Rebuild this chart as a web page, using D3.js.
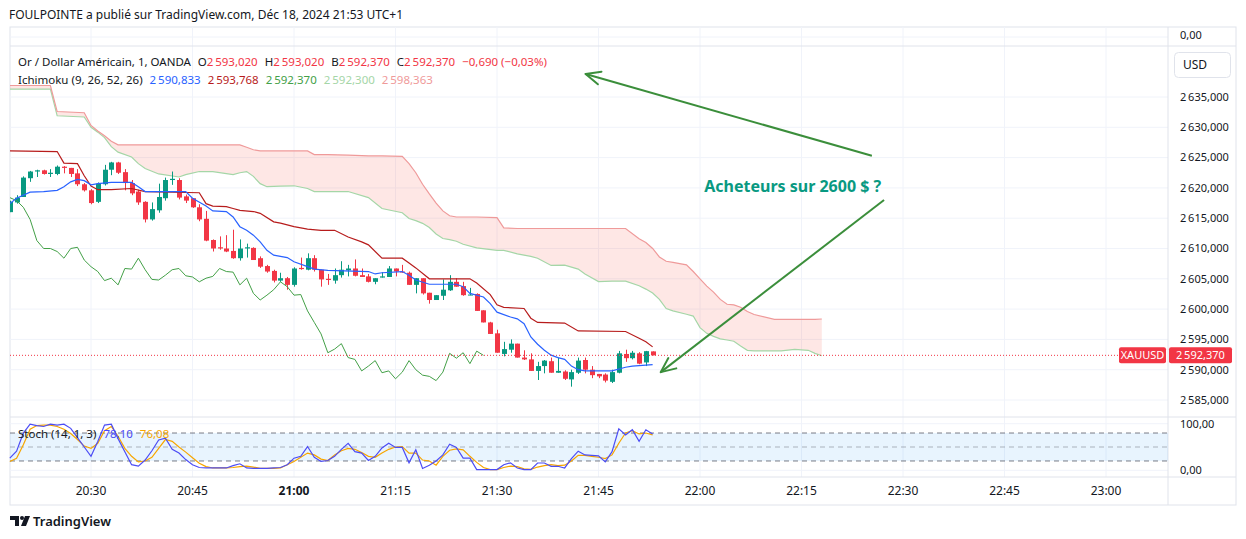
<!DOCTYPE html>
<html>
<head>
<meta charset="utf-8">
<script src="https://cdn.jsdelivr.net/npm/d3@7"></script>
<style>
  body { margin: 0; background: #fff; }
  svg { display: block; font-family: "Noto Sans", sans-serif; }
</style>
</head>
<body>
<svg id="chart" width="1246" height="539"></svg>
<script>
// ---- data (1 minute candles, first one at 20:18) ----
var firstCandle = [20, 18];
var opens  = [2616.0,2617.6,2618.5,2621.6,2622.7,2622.9,2622.3,2622.3,2623.5,2623.3,2622.4,2620.6,2619.6,2617.7,2620.6,2623.0,2624.2,2622.6,2620.8,2619.4,2617.7,2614.8,2616.3,2618.3,2621.3,2621.3,2618.6,2618.3,2616.8,2614.9,2611.4,2610.2,2610.0,2609.6,2608.4,2610.0,2610.1,2608.4,2607.1,2606.3,2604.7,2605.1,2604.0,2606.8,2606.5,2608.4,2606.5,2605.0,2604.7,2605.6,2606.4,2606.7,2605.6,2605.4,2604.5,2605.2,2605.3,2606.7,2606.2,2606.0,2604.0,2605.1,2602.7,2601.5,2602.2,2603.1,2604.5,2603.8,2602.3,2602.5,2599.8,2597.8,2596.0,2592.6,2593.3,2594.3,2592.0,2591.7,2589.8,2590.6,2591.4,2589.5,2589.7,2588.4,2589.5,2591.6,2590.0,2589.3,2589.2,2588.0,2589.5,2592.6,2591.9,2592.7,2591.2,2593.02];
var highs  = [2617.9,2618.8,2621.9,2622.8,2623.0,2623.0,2623.1,2623.7,2623.6,2623.3,2623.1,2620.8,2619.8,2620.9,2623.8,2624.3,2624.3,2623.1,2621.3,2619.7,2617.8,2617.6,2620.7,2621.7,2622.7,2621.6,2618.9,2618.3,2617.3,2616.2,2611.5,2612.0,2612.2,2613.1,2611.5,2610.8,2610.2,2608.7,2607.3,2606.5,2606.0,2605.3,2606.9,2608.5,2609.2,2608.9,2606.5,2605.8,2606.7,2607.9,2607.3,2608.2,2606.7,2605.8,2605.1,2606.1,2607.1,2606.7,2607.3,2606.2,2605.1,2605.1,2602.7,2602.3,2604.9,2605.6,2605.1,2604.5,2603.5,2602.6,2599.8,2597.9,2596.6,2594.6,2595.0,2594.3,2593.2,2592.7,2591.3,2591.6,2592.0,2592.0,2589.9,2590.0,2592.0,2592.0,2590.6,2589.3,2589.4,2590.0,2593.1,2593.3,2593.1,2592.9,2593.1,2593.02];
var lows   = [2616.0,2617.4,2618.5,2621.0,2621.8,2622.2,2621.8,2622.1,2622.4,2621.8,2620.3,2619.4,2617.3,2617.5,2620.4,2622.1,2622.3,2619.6,2618.8,2617.2,2614.3,2614.6,2615.9,2617.9,2620.5,2618.1,2617.5,2616.7,2614.5,2611.2,2609.5,2609.8,2609.4,2608.3,2608.0,2608.5,2608.1,2606.8,2606.0,2604.4,2604.5,2603.2,2603.7,2606.5,2606.4,2606.2,2603.7,2604.0,2604.2,2605.2,2605.4,2605.4,2605.3,2604.4,2604.1,2605.2,2605.3,2605.4,2606.0,2604.0,2602.6,2602.4,2600.9,2601.5,2601.5,2603.0,2603.7,2602.2,2602.3,2599.7,2597.8,2595.9,2592.8,2592.2,2592.8,2592.0,2591.6,2589.8,2588.3,2589.4,2589.5,2589.5,2588.3,2587.2,2589.3,2589.4,2588.6,2588.6,2587.9,2587.8,2589.4,2591.3,2591.7,2590.9,2590.6,2592.37];
var closes = [2617.7,2618.4,2621.7,2622.7,2622.9,2622.3,2622.5,2623.5,2623.3,2622.3,2620.6,2619.6,2617.5,2620.7,2623.0,2624.2,2622.5,2620.8,2619.1,2617.6,2614.8,2616.5,2618.5,2621.3,2621.5,2618.4,2617.9,2616.8,2614.8,2611.3,2610.0,2610.0,2609.5,2608.4,2610.0,2610.2,2608.1,2607.0,2606.2,2604.7,2605.1,2604.0,2606.7,2606.6,2608.4,2606.5,2604.9,2604.8,2605.6,2606.5,2606.7,2605.5,2605.3,2604.5,2605.1,2605.4,2606.7,2606.2,2606.1,2604.0,2605.1,2602.6,2601.5,2602.3,2603.2,2604.5,2603.7,2602.3,2602.4,2599.7,2597.8,2595.9,2592.8,2593.4,2594.3,2592.0,2591.7,2589.8,2590.6,2591.5,2589.5,2589.8,2588.5,2589.6,2591.5,2590.0,2589.1,2588.9,2588.2,2589.6,2592.7,2591.9,2592.8,2591.0,2593.06,2592.37];

// Ichimoku lines: [minute index, price]
var conversionLine = [[0,2617.4],[1,2618.3],[3,2619.3],[5,2619.4],[7,2619.6],[8,2620.2],[9,2621.0],[10,2621.4],[11,2621.2],[12,2620.5],[13,2620.7],[15,2620.9],[18,2620.9],[19,2620.2],[20,2619.4],[26,2619.4],[27,2618.3],[29,2617.0],[30,2616.2],[32,2616.1],[33,2615.2],[34,2613.6],[35,2613.0],[36,2612.2],[37,2611.1],[38,2609.7],[39,2608.9],[41,2608.5],[42,2607.8],[44,2607.0],[45,2606.6],[47,2606.4],[53,2606.2],[54,2605.8],[55,2606.0],[58,2606.2],[59,2605.6],[60,2604.8],[62,2604.1],[66,2604.1],[67,2603.7],[68,2602.6],[70,2602.0],[71,2600.9],[72,2599.5],[74,2598.7],[75,2598.4],[76,2597.6],[77,2595.4],[78,2594.2],[79,2593.2],[80,2592.4],[81,2592.0],[82,2591.7],[83,2590.6],[84,2590.0],[85,2589.8],[89,2589.8],[91,2590.4],[92,2590.6],[95,2590.833]];
var baseLine = [[0,2626.1],[7,2626.0],[8,2624.1],[10,2624.0],[11,2622.0],[12,2620.3],[13,2619.7],[15,2619.7],[18,2619.9],[20,2619.4],[28,2619.2],[29,2617.4],[30,2617.0],[32,2616.9],[33,2616.6],[34,2616.3],[36,2616.1],[37,2615.8],[39,2614.4],[40,2614.2],[42,2613.6],[44,2613.2],[46,2613.0],[48,2613.0],[50,2611.9],[52,2611.1],[53,2610.6],[55,2608.4],[58,2608.4],[59,2607.6],[60,2606.8],[62,2605.0],[68,2605.0],[69,2604.3],[71,2602.4],[72,2600.7],[73,2600.3],[76,2600.1],[77,2598.5],[78,2597.8],[82,2597.7],[84,2596.4],[91,2596.3],[93,2595.2],[94,2594.6],[95,2593.768]];
var laggingShift = 25;
var cloudIdx = [0,6,7,11,12,13,14,15,16,18,19,20,22,25,26,28,30,33,34,35,36,37,38,39,40,42,44,45,47,50,53,55,58,59,60,61,62,63,64,65,66,67,69,72,73,75,77,78,80,82,84,85,87,89,91,93,94,95,96,97,98,100,101,102,103,104,105,106,107,108,109,110,113,114,116,118,119,120];
var leadA = [2636.3,2636.3,2631.9,2631.7,2630.0,2629.2,2628.3,2626.8,2625.9,2625.1,2624.0,2623.2,2622.3,2621.8,2622.2,2622.7,2622.7,2622.2,2622.5,2622.7,2621.9,2620.7,2620.2,2620.25,2620.3,2620.35,2619.9,2619.4,2619.4,2619.4,2618.4,2616.6,2615.9,2614.95,2614.6,2614.15,2613.45,2612.4,2611.65,2611.45,2611.2,2610.7,2610.1,2609.7,2609.7,2609.1,2608.7,2608.4,2607.2,2607.25,2606.6,2605.8,2604.55,2604.6,2604.6,2603.85,2603.3,2602.65,2601.6,2600.1,2599.7,2599.15,2598.85,2596.95,2596.0,2595.5,2595.1,2594.9,2594.7,2593.9,2593.2,2593.1,2593.1,2593.1,2593.35,2593.2,2592.7,2592.3];
var leadB = [2636.9,2636.9,2632.6,2632.4,2630.3,2629.4,2628.6,2627.7,2627.1,2627.1,2627.1,2627.1,2627.1,2627.1,2627.1,2627.1,2627.1,2627.1,2627.1,2626.7,2626.3,2626.1,2626.1,2626.1,2626.1,2626.1,2626.1,2625.5,2625.5,2625.4,2625.3,2625.3,2625.2,2624.0,2622.5,2620.6,2619.0,2617.5,2616.2,2615.4,2615.2,2615.2,2615.2,2615.1,2613.4,2613.3,2613.3,2613.3,2613.3,2613.3,2613.3,2613.3,2613.3,2613.3,2613.3,2611.6,2611.0,2610.0,2608.6,2607.9,2607.7,2607.3,2606.2,2605.0,2603.8,2602.8,2601.6,2600.8,2600.7,2600.3,2599.6,2599.1,2598.3,2598.3,2598.3,2598.3,2598.3,2598.363];

// Stochastic (14, 1, 3)
var stochK = [26,41,80,99,96,94,99,97,99,90,70,50,30,62,97,99,68,40,12,9,22,42,65,69,45,37,23,12,6,5,5,5,5,10,14,5,4,4,4,5,6,12,26,30,51,28,19,21,30,45,58,40,37,21,30,48,58,49,49,16,44,4,11,20,33,56,49,26,26,1.5,1.5,1.5,1.5,12,16,5,1.5,1.5,15.7,15.7,8.6,8.6,5,25,41,33,32,31,18,40,89,76,87,62,87,78.10];
var stochD = [19,26,55,88,96,97,97,94,88,79,66,52,47,58,85,94,73,47,30,18,20,28,47,66,62,50,39,27,15,8,5,5,5,6,8,9,7,4,4,4,5,12,19,28,37,33,24,21,33,42,47,45,38,30,28,37,45,50,51,37,37,22,20,11,30,43,46,44,30,17,6,1.5,1.5,6,9,8,3,2,7,10,12,10,11,20,32,32,30,28,25,33,58,80,85,78,80,76.08];

// axes
var priceTicks = [2585,2590,2595,2600,2605,2610,2615,2620,2625,2630,2635];
var timeTicks = ["20:30","20:45","21:00","21:15","21:30","21:45","22:00","22:15","22:30","22:45","23:00"];
var boldTicks = ["21:00"];
var stochLevels = [80, 50, 20];
var stochLabels = [100, 0];

// drawings: [hh, mm (fractional), price]
var arrows = [
  {from: [22, 25.4, 2625.3], to: [21, 43.1, 2638.8]},
  {from: [22, 27.2, 2618.0], to: [21, 54.2, 2589.6]}
];
var noteText = {at: [22, 13.7, 2620.3], text: "Acheteurs sur 2600 $ ?"};

// ---- setup ----
var svg = d3.select("#chart");
var locale = d3.formatLocale({decimal: ",", thousands: "\u202f", grouping: [3], currency: ["", ""]});
var f3 = locale.format(",.3f"), f2 = locale.format(",.2f");

var red = "#f23645", green = "#089981", gridCol = "#f0f3fa", borderCol = "#e0e3eb", textCol = "#131722";
var paneLeft = 10, paneRight = 1168, frameRight = 1236;
var frameTop = 27, mainTop = 46, mainBottom = 417, stochBottom = 477, frameBottom = 505;

function hm(h, m) { return new Date(Date.UTC(2024, 11, 18, h, 0) + m * 60000); }
function tAt(i) { return hm(firstCandle[0], firstCandle[1] + i); }
function parseTick(s) { var p = s.split(":"); return hm(+p[0], +p[1]); }

var x = d3.scaleUtc().domain([hm(20, 30), hm(22, 0)]).range([91, 700]);
var y = d3.scaleLinear().domain([2585, 2635]).range([400, 97]);
var ys = d3.scaleLinear().domain([0, 100]).range([470.3, 423.7]);

// header
svg.append("text").attr("x", 9).attr("y", 19).attr("font-size", 12).attr("fill", textCol)
  .text("FOULPOINTE a publié sur TradingView.com, Déc 18, 2024 21:53 UTC+1");

// frame
svg.append("rect").attr("x", paneLeft).attr("y", frameTop).attr("width", frameRight - paneLeft)
  .attr("height", frameBottom - frameTop).attr("fill", "none").attr("stroke", borderCol);

// grid
var grid = svg.append("g");
timeTicks.forEach(function(s) {
  grid.append("line").attr("x1", x(parseTick(s))).attr("x2", x(parseTick(s)))
    .attr("y1", frameTop).attr("y2", stochBottom).attr("stroke", gridCol);
});
priceTicks.forEach(function(p) {
  grid.append("line").attr("x1", paneLeft).attr("x2", paneRight).attr("y1", y(p)).attr("y2", y(p)).attr("stroke", gridCol);
});
grid.append("line").attr("x1", paneLeft).attr("x2", paneRight).attr("y1", 37).attr("y2", 37).attr("stroke", gridCol);
stochLabels.forEach(function(v) {
  grid.append("line").attr("x1", paneLeft).attr("x2", paneRight).attr("y1", ys(v)).attr("y2", ys(v)).attr("stroke", gridCol);
});
[mainTop, mainBottom, stochBottom].forEach(function(yy) {
  svg.append("line").attr("x1", paneLeft).attr("x2", frameRight).attr("y1", yy).attr("y2", yy).attr("stroke", borderCol);
});
svg.append("line").attr("x1", paneRight).attr("x2", paneRight).attr("y1", frameTop).attr("y2", frameBottom).attr("stroke", borderCol);

// clip for main pane
svg.append("clipPath").attr("id", "mainClip").append("rect")
  .attr("x", paneLeft).attr("y", mainTop + 1).attr("width", paneRight - paneLeft).attr("height", mainBottom - mainTop - 1);
var main = svg.append("g").attr("clip-path", "url(#mainClip)");

// cloud
var cloud = cloudIdx.map(function(i, k) { return {t: tAt(i), a: leadA[k], b: leadB[k]}; });
main.append("path").datum(cloud)
  .attr("d", d3.area().x(function(d) { return x(d.t); }).y0(function(d) { return y(d.a); }).y1(function(d) { return y(d.b); }))
  .attr("fill", "rgba(244, 67, 54, 0.13)");
var lineT = d3.line().x(function(d) { return x(d.t); });
main.append("path").datum(cloud).attr("d", lineT.y(function(d) { return y(d.a); }))
  .attr("fill", "none").attr("stroke", "#a5d6a7").attr("stroke-width", 1.2);
main.append("path").datum(cloud).attr("d", d3.line().x(function(d) { return x(d.t); }).y(function(d) { return y(d.b); }))
  .attr("fill", "none").attr("stroke", "#ef9a9a").attr("stroke-width", 1.2);

// candles
var candles = opens.map(function(o, i) { return {t: tAt(i), o: o, h: highs[i], l: lows[i], c: closes[i]}; });
var cg = main.selectAll("g.candle").data(candles).enter().append("g")
  .attr("fill", function(d) { return d.c >= d.o ? green : red; })
  .attr("stroke", function(d) { return d.c >= d.o ? green : red; });
cg.append("line").attr("x1", function(d) { return Math.round(x(d.t)) + 0.5; }).attr("x2", function(d) { return Math.round(x(d.t)) + 0.5; })
  .attr("y1", function(d) { return y(d.h); }).attr("y2", function(d) { return y(d.l); }).attr("stroke-width", 1);
cg.append("rect").attr("stroke", "none")
  .attr("x", function(d) { return Math.round(x(d.t)) + 0.5 - 2.5; }).attr("width", 5)
  .attr("y", function(d) { return y(Math.max(d.o, d.c)); })
  .attr("height", function(d) { return Math.max(1, Math.abs(y(d.o) - y(d.c))); });

// lagging span (closes plotted 25 bars back)
var lagging = closes.slice(laggingShift).map(function(c, k) { return [k, c]; });
var lineIdx = d3.line().x(function(d) { return x(tAt(d[0])); }).y(function(d) { return y(d[1]); });
main.append("path").datum(lagging).attr("d", lineIdx).attr("fill", "none").attr("stroke", "#43a047").attr("stroke-width", 1);
main.append("path").datum(baseLine).attr("d", lineIdx).attr("fill", "none").attr("stroke", "#b71c1c").attr("stroke-width", 1.2);
main.append("path").datum(conversionLine).attr("d", lineIdx).attr("fill", "none").attr("stroke", "#2962ff").attr("stroke-width", 1.2);

// last price dotted line
var last = closes[closes.length - 1];
main.append("line").attr("x1", paneLeft).attr("x2", paneRight).attr("y1", y(last)).attr("y2", y(last))
  .attr("stroke", red).attr("stroke-dasharray", "1,2");

// price axis
var pax = svg.append("g").attr("font-size", 11).attr("fill", textCol);
priceTicks.forEach(function(p) {
  pax.append("text").attr("x", 1180).attr("y", y(p)).attr("dy", "0.35em").text(f3(p));
});
pax.append("text").attr("x", 1180).attr("y", 35).attr("dy", "0.35em").text(f2(0));
svg.append("rect").attr("x", 1174.5).attr("y", 52.5).attr("width", 56).attr("height", 25).attr("rx", 4)
  .attr("fill", "#fff").attr("stroke", borderCol);
svg.append("text").attr("x", 1195).attr("y", 65).attr("dy", "0.35em").attr("text-anchor", "middle")
  .attr("font-size", 12).attr("fill", textCol).text("USD");
svg.append("rect").attr("x", 1119).attr("y", y(last) - 8).attr("width", 47).attr("height", 16).attr("rx", 2).attr("fill", red);
svg.append("text").attr("x", 1142.5).attr("y", y(last)).attr("dy", "0.35em").attr("text-anchor", "middle")
  .attr("font-size", 11).attr("fill", "#fff").text("XAUUSD");
svg.append("rect").attr("x", 1169).attr("y", y(last) - 8).attr("width", 63).attr("height", 16).attr("rx", 2).attr("fill", red);
svg.append("text").attr("x", 1176).attr("y", y(last)).attr("dy", "0.35em")
  .attr("font-size", 11).attr("fill", "#fff").text(f3(last));

// stoch pane
svg.append("rect").attr("x", paneLeft).attr("y", ys(80)).attr("width", paneRight - paneLeft)
  .attr("height", ys(20) - ys(80)).attr("fill", "rgba(33, 150, 243, 0.1)");
stochLevels.forEach(function(v) {
  svg.append("line").attr("x1", paneLeft).attr("x2", paneRight).attr("y1", ys(v)).attr("y2", ys(v))
    .attr("stroke", "#787b86").attr("stroke-opacity", v === 50 ? 0.55 : 1).attr("stroke-dasharray", "5,4");
});
var sLine = d3.line().x(function(d, i) { return x(tAt(i)); }).y(function(d) { return ys(d); });
svg.append("path").datum(stochD).attr("d", sLine).attr("fill", "none").attr("stroke", "#f7a600").attr("stroke-width", 1.2);
svg.append("path").datum(stochK).attr("d", sLine).attr("fill", "none").attr("stroke", "#4d4df5").attr("stroke-width", 1.2);
stochLabels.forEach(function(v) {
  pax.append("text").attr("x", 1180).attr("y", ys(v)).attr("dy", "0.35em").text(f2(v));
});

// time axis
var tax = svg.append("g").attr("font-size", 12).attr("fill", textCol).attr("text-anchor", "middle");
timeTicks.forEach(function(s) {
  tax.append("text").attr("x", x(parseTick(s))).attr("y", 491).attr("dy", "0.35em")
    .attr("font-weight", boldTicks.indexOf(s) >= 0 ? "bold" : null).text(s);
});

// legends
function legend(yy, parts) {
  var t = svg.append("text").attr("x", 18).attr("y", yy).attr("font-size", 11.5).attr("fill", textCol);
  parts.forEach(function(p) {
    t.append("tspan").attr("dx", p[2] || 0).attr("fill", p[1] || textCol).text(p[0]);
  });
}
var prev = closes[closes.length - 2];
var chg = last - prev;
legend(66, [
  ["Or / Dollar Américain, 1, OANDA"],
  ["O", null, 7], [f3(opens[95]), red],
  ["H", null, 7], [f3(highs[95]), red],
  ["B", null, 7], [f3(lows[95]), red],
  ["C", null, 7], [f3(last), red],
  [f3(chg) + " (" + f2(chg / prev * 100) + "%)", red, 7]
]);
legend(84, [
  ["Ichimoku (9, 26, 52, 26)"],
  [f3(conversionLine[conversionLine.length - 1][1]), "#2962ff", 7],
  [f3(baseLine[baseLine.length - 1][1]), "#b71c1c", 7],
  [f3(last), "#43a047", 7],
  [f3(leadA[leadA.length - 1]), "#a5d6a7", 7],
  [f3(leadB[leadB.length - 1]), "#ef9a9a", 7]
]);
var st = svg.append("text").attr("x", 18).attr("y", 438).attr("font-size", 11.5).attr("fill", textCol);
st.append("tspan").text("Stoch (14, 1, 3)");
st.append("tspan").attr("dx", 7).attr("fill", "#4d4df5").text(f2(stochK[stochK.length - 1]));
st.append("tspan").attr("dx", 7).attr("fill", "#f7a600").text(f2(stochD[stochD.length - 1]));

// drawings
function pt(a) { return [x(hm(a[0], a[1])), y(a[2])]; }
var arrowCol = "#3b8e3b";
arrows.forEach(function(a) {
  var p0 = pt(a.from), p1 = pt(a.to);
  svg.append("line").attr("x1", p0[0]).attr("y1", p0[1]).attr("x2", p1[0]).attr("y2", p1[1])
    .attr("stroke", arrowCol).attr("stroke-width", 2);
  var ang = Math.atan2(p0[1] - p1[1], p0[0] - p1[0]);
  [0.42, -0.42].forEach(function(da) {
    svg.append("line").attr("x1", p1[0]).attr("y1", p1[1])
      .attr("x2", p1[0] + 16 * Math.cos(ang + da)).attr("y2", p1[1] + 16 * Math.sin(ang + da))
      .attr("stroke", arrowCol).attr("stroke-width", 2).attr("stroke-linecap", "round");
  });
});
var np = pt(noteText.at);
svg.append("text").attr("x", np[0]).attr("y", np[1]).attr("dy", "0.35em").attr("text-anchor", "middle")
  .attr("font-size", 16).attr("font-weight", "bold").attr("fill", green).text(noteText.text);

// TradingView logo
var logo = svg.append("g").attr("fill", textCol);
logo.append("path").attr("d", "M10,516h9v10h-4v-6h-5z");
logo.append("circle").attr("cx", 22).attr("cy", 518).attr("r", 2);
logo.append("path").attr("d", "M25,516h5l-4,10h-5z");
svg.append("text").attr("x", 33).attr("y", 521).attr("dy", "0.35em").attr("font-size", 13)
  .attr("font-weight", 600).attr("fill", textCol).text("TradingView");
</script>
</body>
</html>
